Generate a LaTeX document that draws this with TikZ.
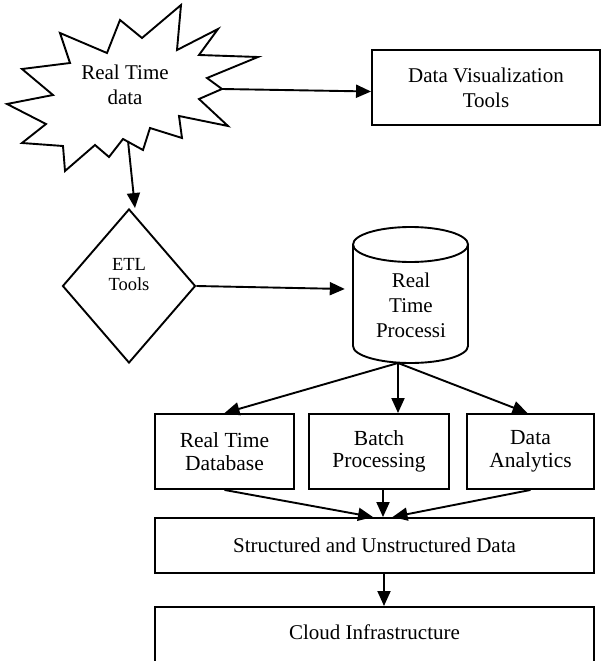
\documentclass[tikz,border=0pt]{standalone}
\usepackage{fontspec}
\setmainfont{Liberation Serif}
\usetikzlibrary{shapes.geometric,arrows.meta}
\tikzset{
  ln/.style={line width=1.9pt},
  box/.style={draw, ln, align=center, inner sep=0pt, font=\fontsize{21}{25}\selectfont},
  lowbox/.style={box, font=\fontsize{21.5}{22.7}\selectfont, minimum height=75pt},
  txt/.style={align=center, inner sep=0pt, font=\fontsize{21}{25}\selectfont},
  arr/.style={ln, -{Triangle[length=15pt,width=13pt]}}
}
\begin{document}
\begin{tikzpicture}[x=1pt,y=-1pt]
\useasboundingbox (0,0) rectangle (605,661);
\clip (0,0) rectangle (605,661);
% starburst
\draw[ln, line join=miter] (181,5) -- (177,50) -- (218,29) -- (199,55) -- (258,57) -- (207,78) -- (222,89) -- (199,99) -- (228,126) -- (179,116) -- (182,138) -- (150,128) -- (143,150) -- (123,139) -- (109,157) -- (95,145) -- (65,171) -- (63,146) -- (22,143) -- (46,124) -- (7,104) -- (53,95) -- (22,69) -- (70,63) -- (60,33) -- (107,53) -- (120,20) -- (142,38) -- cycle;
\node[txt] (rt) at (125,85) {Real Time\\data};
\coordinate (rte) at (222,89);
\coordinate (rts) at (128,141);
% data visualization
\node[box, minimum width=228pt, minimum height=75pt] (dv) at (486,87.5) {Data Visualization\\Tools};
% ETL diamond
\node[draw, ln, diamond, aspect=0.86, minimum width=133pt, minimum height=154pt, inner sep=0pt] (etl) at (129,286) {};
\node[align=center, inner sep=0pt, font=\fontsize{18.5}{20}\selectfont] (etltext) at (129,275) {ETL\\Tools};
% cylinder
\node[minimum width=115pt, minimum height=136pt, inner sep=0pt] (cyl) at (410.5,295) {};
\draw[ln] (410.5,244.5) ellipse [x radius=57.5pt, y radius=17.5pt];
\draw[ln] (353,244.5) -- (353,346) arc[start angle=180, end angle=360, x radius=57.5pt, y radius=17pt] -- (468,244.5);
\node[txt] (cyltext) at (411,305) {Real\\Time\\Processi};
\coordinate (cb) at (398,363);
% lower boxes
\node[lowbox, minimum width=139pt] (rtdb) at (224.5,451.5) {Real Time\\Database};
\node[lowbox, minimum width=140pt] (batch) at (379,451.5) {Batch\\Processing};
\node[lowbox, minimum width=127pt] (da) at (530.5,451.5) {Data\\Analytics};
\node[box, minimum width=439pt, minimum height=55pt] (sud) at (374.5,545.5) {Structured and Unstructured Data};
\node[box, minimum width=439pt, minimum height=100pt, anchor=north, text depth=50pt] (cloud) at (374.5,606) {Cloud Infrastructure};
% connectors
\draw[arr] (rte) -- ([yshift=-4pt]dv.west);
\draw[arr] (rts) -- ([xshift=6pt]etl.north);
\draw[arr] (etl.east) -- ([xshift=-8pt,yshift=6pt]cyl.west);
\draw[arr] (cb) -- (rtdb.north);
\draw[arr] (cb) -- (cb |- batch.north);
\draw[arr] (cb) -- ([xshift=-3pt]da.north);
\coordinate (bs) at ([xshift=4pt]batch.south);
\draw[arr] (rtdb.south) -- ([xshift=-1.5pt]sud.north);
\draw[arr] (bs) -- (bs |- sud.north);
\draw[arr] (da.south) -- ([xshift=18pt]sud.north);
\coordinate (ss) at ([xshift=9.5pt]sud.south);
\draw[arr] (ss) -- (ss |- cloud.north);
\end{tikzpicture}
\end{document}
